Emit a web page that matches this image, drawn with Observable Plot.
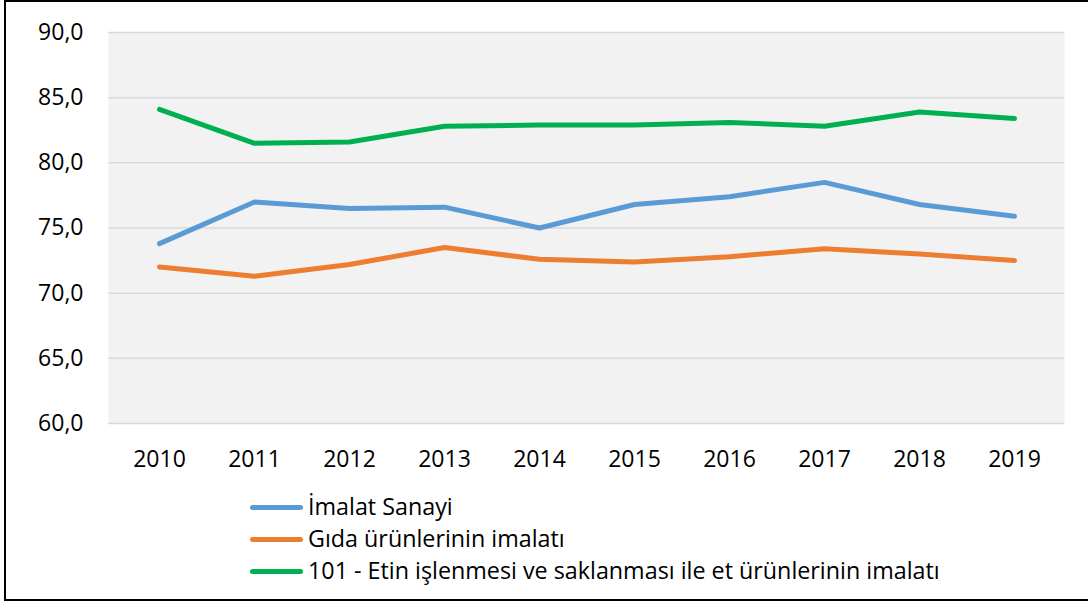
<!DOCTYPE html>
<html>
<head>
<meta charset="utf-8">
<script src="https://cdn.jsdelivr.net/npm/d3@7"></script>
<script src="https://cdn.jsdelivr.net/npm/@observablehq/plot@0.6"></script>
<style>
  html, body { margin: 0; padding: 0; background: #fff; }
  #wrap { position: relative; width: 1088px; height: 604px; overflow: hidden; font-family: "Open Sans", sans-serif; }
  #border { position: absolute; left: 4px; top: 0px; width: 1090px; height: 601px; border: 2px solid #000; box-sizing: border-box; }
  #chart { position: absolute; left: 0; top: 0; }
  #legend { position: absolute; left: 250px; top: 491px; }
  .item { display: flex; align-items: center; height: 32px; }
  .swatch { width: 53px; height: 5px; border-radius: 3px; margin-right: 5px; }
  .label { font-size: 23.3px; color: #000; line-height: 1; }
</style>
</head>
<body>
<div id="wrap">
  <div id="border"></div>
  <div id="chart"></div>
  <div id="legend"></div>
</div>
<script>
const years = [2010, 2011, 2012, 2013, 2014, 2015, 2016, 2017, 2018, 2019];
const imalatSanayi = [73.8, 77.0, 76.5, 76.6, 75.0, 76.8, 77.4, 78.5, 76.8, 75.9];
const gidaUrunleri = [72.0, 71.3, 72.2, 73.5, 72.6, 72.4, 72.8, 73.4, 73.0, 72.5];
const etUrunleri = [84.1, 81.5, 81.6, 82.8, 82.9, 82.9, 83.1, 82.8, 83.9, 83.4];
const seriesNames = ["İmalat Sanayi", "Gıda ürünlerinin imalatı", "101 - Etin işlenmesi ve saklanması ile et ürünlerinin imalatı"];
const seriesColors = ["#5b9bd5", "#ed7d31", "#00b050"];
const yTicks = [60, 65, 70, 75, 80, 85, 90];

const seriesValues = [imalatSanayi, gidaUrunleri, etUrunleri];
const data = seriesValues.flatMap((vals, i) =>
  vals.map((v, j) => ({ year: years[j], value: v, series: seriesNames[i] }))
);

const fmt = d => d.toFixed(1).replace(".", ",");

const chart = Plot.plot({
  width: 1088,
  height: 480,
  marginTop: 32,
  marginLeft: 108,
  marginRight: 24,
  marginBottom: 57,
  style: { fontFamily: "Open Sans, sans-serif", fontSize: "23px", color: "#000", background: "transparent" },
  x: { type: "point", domain: years, padding: 0.5 },
  y: { domain: [60, 90] },
  color: { domain: seriesNames, range: seriesColors },
  marks: [
    Plot.frame({ fill: "#f2f2f2", stroke: null }),
    Plot.gridY(yTicks, { stroke: "#d9d9d9", strokeWidth: 1.5, strokeOpacity: 1 }),
    Plot.axisY(yTicks, { tickSize: 0, tickPadding: 25, tickFormat: fmt, label: null, fill: "#000" }),
    Plot.axisX(years, { tickSize: 0, tickPadding: 27, tickFormat: d => String(d), label: null, fill: "#000" }),
    Plot.line(data, { x: "year", y: "value", stroke: "series", z: "series", strokeWidth: 5, strokeLinecap: "round", strokeLinejoin: "round" })
  ]
});
document.getElementById("chart").appendChild(chart);

const legend = document.getElementById("legend");
seriesNames.forEach((name, i) => {
  const item = document.createElement("div");
  item.className = "item";
  const sw = document.createElement("div");
  sw.className = "swatch";
  sw.style.background = seriesColors[i];
  const lab = document.createElement("span");
  lab.className = "label";
  lab.textContent = name;
  item.appendChild(sw);
  item.appendChild(lab);
  legend.appendChild(item);
});
</script>
</body>
</html>
